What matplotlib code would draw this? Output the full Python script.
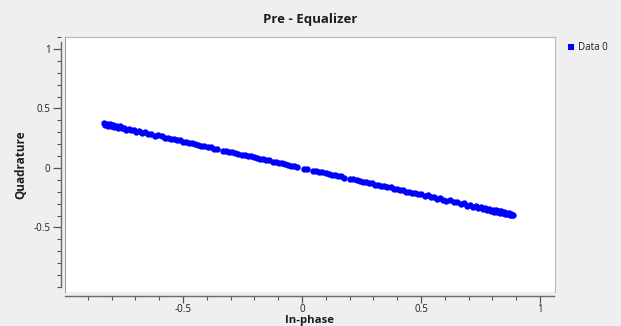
import matplotlib
matplotlib.use("Agg")
import matplotlib.pyplot as plt
from matplotlib.ticker import MultipleLocator, FixedLocator
from matplotlib.lines import Line2D

# Constellation samples
in_phase = [
    -0.832, -0.826, -0.821, -0.815, -0.809, -0.802, -0.796, -0.789, -0.781, -0.774,
    -0.766, -0.757, -0.748, -0.739, -0.729, -0.719, -0.708, -0.697, -0.685, -0.673,
    -0.660, -0.647, -0.633, -0.619, -0.604,
    -0.589, -0.577, -0.565, -0.552, -0.540, -0.527, -0.514, -0.501, -0.488, -0.475,
    -0.462, -0.449, -0.436, -0.423, -0.410, -0.397, -0.384, -0.371, -0.358,
    -0.332, -0.319, -0.306, -0.293, -0.280, -0.267, -0.254, -0.241, -0.228, -0.215,
    -0.202, -0.189, -0.176, -0.163, -0.150, -0.137, -0.124, -0.111, -0.098, -0.085,
    -0.072, -0.059, -0.046, -0.033, -0.020, 0.008, 0.021,
    0.047, 0.060, 0.073, 0.086, 0.099, 0.112, 0.125, 0.138, 0.151, 0.164, 0.177,
    0.203, 0.216, 0.229, 0.242, 0.255, 0.268, 0.281, 0.294, 0.307, 0.320,
    0.333, 0.346, 0.359, 0.372, 0.385, 0.398, 0.411, 0.424, 0.437, 0.450,
    0.463, 0.476, 0.489, 0.502, 0.515, 0.528, 0.541, 0.554, 0.567, 0.580, 0.593,
    0.605, 0.621, 0.637, 0.652, 0.666, 0.680, 0.693,
    0.706, 0.718, 0.729, 0.740, 0.750, 0.760, 0.769, 0.778, 0.786, 0.794,
    0.801, 0.808, 0.815, 0.821, 0.827, 0.833, 0.838, 0.843, 0.848, 0.853,
    0.858, 0.863, 0.868, 0.873, 0.878, 0.883, 0.887,
]
quadrature = [
    0.378, 0.362, 0.370, 0.354, 0.366, 0.352, 0.363, 0.345, 0.353, 0.337,
    0.349, 0.333, 0.339, 0.322, 0.330, 0.315, 0.322, 0.306, 0.310, 0.294,
    0.299, 0.284, 0.287, 0.271, 0.273,
    0.265, 0.254, 0.255, 0.243, 0.244, 0.232, 0.231, 0.220, 0.219, 0.210,
    0.209, 0.198, 0.196, 0.185, 0.185, 0.175, 0.173, 0.163, 0.161,
    0.146, 0.144, 0.134, 0.133, 0.123, 0.121, 0.111, 0.109, 0.100, 0.098,
    0.088, 0.086, 0.076, 0.075, 0.065, 0.063, 0.053, 0.051, 0.042, 0.040,
    0.030, 0.028, 0.018, 0.016, 0.007, -0.008, -0.011,
    -0.023, -0.025, -0.035, -0.036, -0.046, -0.048, -0.058, -0.059, -0.069, -0.071, -0.081,
    -0.092, -0.094, -0.104, -0.106, -0.116, -0.117, -0.127, -0.129, -0.140, -0.141,
    -0.151, -0.152, -0.163, -0.164, -0.175, -0.174, -0.186, -0.186, -0.198, -0.198,
    -0.209, -0.209, -0.222, -0.221, -0.233, -0.231, -0.245, -0.243, -0.257, -0.254, -0.269,
    -0.276, -0.271, -0.290, -0.284, -0.303, -0.296, -0.316,
    -0.307, -0.327, -0.317, -0.336, -0.326, -0.346, -0.335, -0.355, -0.343, -0.361,
    -0.349, -0.366, -0.355, -0.374, -0.361, -0.378, -0.365, -0.382, -0.372, -0.388,
    -0.375, -0.390, -0.380, -0.395, -0.386, -0.397, -0.394,
]

x_major = [-0.5, 0, 0.5, 1]
y_major = [-0.5, 0, 0.5, 1]
x_labels = ["-0.5", "0", "0.5", "1"]
y_labels = ["-0.5", "0", "0.5", "1"]

BG = "#efefef"
TXT = "#1e1e1e"
plt.rcParams["font.family"] = ["Open Sans", "DejaVu Sans"]

fig = plt.figure(figsize=(6.21, 3.26), dpi=100, facecolor=BG)
ax = fig.add_axes([65 / 621, 1 - 292 / 326, 490 / 621, 255 / 326])
ax.set_facecolor("white")

ax.plot(in_phase, quadrature, linestyle="none", marker="o", markersize=4.6,
        color="#0000ff", markeredgewidth=0)

ax.set_xlim(-0.996, 1.063)
ax.set_ylim(-1.042, 1.10)

# canvas frame
for s in ("top", "right"):
    ax.spines[s].set_color("#b8b8b8")
    ax.spines[s].set_linewidth(0.8)
ax.add_line(Line2D([0, 0], [0, 1], transform=ax.transAxes, color="#a0a0a0",
                   linewidth=0.8, clip_on=False))

# scale backbones sit a little outside the canvas
for s in ("left", "bottom"):
    ax.spines[s].set_position(("outward", 3))
    ax.spines[s].set_color("#6a6a6a")
    ax.spines[s].set_linewidth(1.0)
ax.spines["left"].set_bounds(-1.0, 1.06)
ax.spines["bottom"].set_bounds(-0.996, 1.06)

ax.xaxis.set_major_locator(FixedLocator(x_major))
ax.yaxis.set_major_locator(FixedLocator(y_major))
ax.set_xticklabels(x_labels)
ax.set_yticklabels(y_labels)
ax.xaxis.set_minor_locator(MultipleLocator(0.1))
ax.yaxis.set_minor_locator(MultipleLocator(0.1))
ax.tick_params(which="major", length=6, width=0.9, color="#555555",
               labelsize=7, labelcolor=TXT, pad=1.5)
ax.tick_params(axis="x", which="major", length=5, pad=1)
ax.tick_params(which="minor", length=3, width=0.8, color="#555555")

ax.set_xlabel("In-phase", fontsize=8.2, fontweight="bold", color=TXT, labelpad=-0.5)
ax.set_ylabel("Quadrature", fontsize=8.5, fontweight="bold", color=TXT, labelpad=4)
fig.text(310 / 621, 1 - 20 / 326, "Pre - Equalizer", ha="center", va="center",
         fontsize=9.5, fontweight="bold", color=TXT)

# legend item on the right
fig.lines.append(Line2D([571 / 621], [1 - 47 / 326], transform=fig.transFigure,
                        marker="s", markersize=4, color="#0000ff",
                        markeredgewidth=0, linestyle="none"))
fig.text(578 / 621, 1 - 47 / 326, "Data 0", ha="left", va="center",
         fontsize=7, color=TXT)

fig.savefig("out.png", dpi=100, facecolor=BG)
